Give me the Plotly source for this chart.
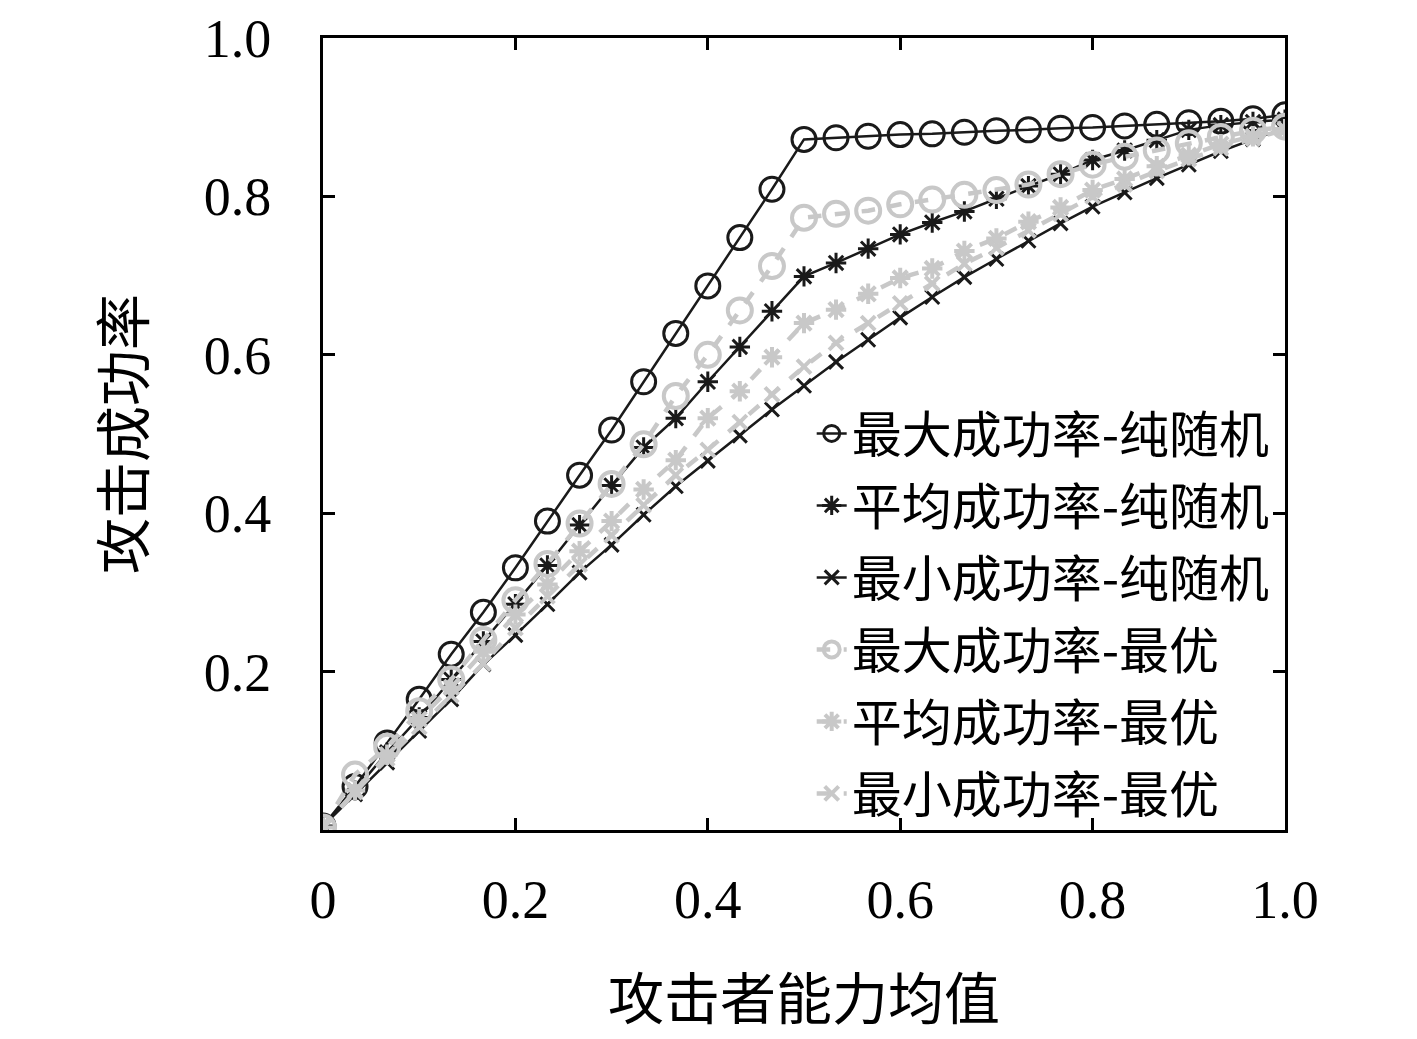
import plotly.graph_objects as go

# attacker capability mean (31 sample points)
x = [0.0, 0.0333, 0.0667, 0.1, 0.1333, 0.1667, 0.2, 0.2333, 0.2667, 0.3, 0.3333,
     0.3667, 0.4, 0.4333, 0.4667, 0.5, 0.5333, 0.5667, 0.6, 0.6333, 0.6667,
     0.7, 0.7333, 0.7667, 0.8, 0.8333, 0.8667, 0.9, 0.9333, 0.9667, 1.0]

# pure random strategy
max_rand = [0.005, 0.055, 0.11, 0.165, 0.222, 0.275, 0.331, 0.39, 0.448, 0.505, 0.566,
            0.627, 0.687, 0.748, 0.809, 0.872, 0.874, 0.876, 0.878, 0.879, 0.881,
            0.883, 0.884, 0.886, 0.887, 0.889, 0.891, 0.893, 0.895, 0.898, 0.903]
avg_rand = [0.005, 0.05, 0.098, 0.142, 0.19, 0.238, 0.285, 0.334, 0.385, 0.435, 0.483,
            0.52, 0.566, 0.61, 0.655, 0.699, 0.716, 0.734, 0.752, 0.767, 0.781,
            0.797, 0.813, 0.828, 0.846, 0.858, 0.871, 0.884, 0.89, 0.894, 0.897]
min_rand = [0.005, 0.045, 0.085, 0.125, 0.165, 0.209, 0.246, 0.285, 0.325, 0.36, 0.398,
            0.434, 0.466, 0.498, 0.531, 0.561, 0.591, 0.619, 0.647, 0.673, 0.698,
            0.721, 0.744, 0.766, 0.787, 0.805, 0.823, 0.84, 0.857, 0.872, 0.886]

# optimal strategy
max_opt = [0.003, 0.07, 0.105, 0.15, 0.19, 0.24, 0.29, 0.336, 0.387, 0.437, 0.487,
           0.548, 0.6, 0.656, 0.712, 0.773, 0.778, 0.782, 0.79, 0.796, 0.802,
           0.808, 0.815, 0.828, 0.84, 0.85, 0.858, 0.867, 0.875, 0.883, 0.888]
avg_opt = [0.003, 0.05, 0.095, 0.14, 0.18, 0.225, 0.272, 0.31, 0.352, 0.39, 0.43,
           0.467, 0.52, 0.554, 0.597, 0.64, 0.657, 0.677, 0.697, 0.709, 0.731,
           0.747, 0.768, 0.786, 0.808, 0.822, 0.838, 0.852, 0.866, 0.876, 0.885]
min_opt = [0.003, 0.048, 0.09, 0.13, 0.17, 0.21, 0.255, 0.295, 0.335, 0.372, 0.41,
           0.448, 0.48, 0.515, 0.55, 0.585, 0.615, 0.64, 0.665, 0.69, 0.715,
           0.735, 0.757, 0.778, 0.8, 0.815, 0.832, 0.847, 0.861, 0.873, 0.884]

names = ["最大成功率-纯随机", "平均成功率-纯随机", "最小成功率-纯随机",
         "最大成功率-最优", "平均成功率-最优", "最小成功率-最优"]

tick_vals = [0, 0.2, 0.4, 0.6, 0.8, 1.0]
x_tick_text = ["0", "0.2", "0.4", "0.6", "0.8", "1.0"]
y_tick_vals = [0.2, 0.4, 0.6, 0.8, 1.0]
y_tick_text = ["0.2", "0.4", "0.6", "0.8", "1.0"]

black = "#1a1a1a"
gray = "#c8c8c8"

fig = go.Figure()

series = [
    (max_rand, "circle-open", 24, black, "solid"),
    (avg_rand, "asterisk", 17, black, "solid"),
    (min_rand, "x-thin", 14, black, "solid"),
    (max_opt, "circle-open", 24, gray, "dash"),
    (avg_opt, "asterisk", 17, gray, "dash"),
    (min_opt, "x-thin", 14, gray, "dash"),
]

for i, ((y, sym, size, col, dash), name) in enumerate(zip(series, names)):
    fig.add_trace(go.Scatter(
        x=x, y=y, name=name, mode="lines+markers", legendgroup=f"g{i}",
        line=dict(color=col, width=2.5 if col == black else 4.5, dash=dash),
        marker=dict(symbol=sym, size=size, color=col,
                    line=dict(color=col, width=3 if col == black else 4)),
    ))

axis_common = dict(
    showline=True, linecolor="black", linewidth=3, mirror="allticks",
    ticks="inside", ticklen=12, tickwidth=3, tickcolor="black",
    showgrid=False, zeroline=False, ticklabeloverflow="allow", automargin=False,
    tickfont=dict(family="Liberation Serif", size=54, color="black"),
)

fig.update_xaxes(range=[0, 1], tickvals=tick_vals, ticktext=x_tick_text,
                 title=dict(text="攻击者能力均值", standoff=52,
                            font=dict(family="Noto Sans CJK SC", size=56, color="black")),
                 ticklabelstandoff=20, **axis_common)
fig.update_yaxes(range=[0, 1], tickvals=y_tick_vals, ticktext=y_tick_text,
                 title=dict(text="攻击成功率", standoff=42,
                            font=dict(family="Noto Sans CJK SC", size=56, color="black")),
                 ticklabelstandoff=38, **axis_common)

fig.update_layout(
    width=1417, height=1039,
    margin=dict(l=315, r=140, t=30, b=217),
    paper_bgcolor="white", plot_bgcolor="white",
    showlegend=True,
    legend=dict(x=0.508, y=0.55, xanchor="left", yanchor="top",
                bgcolor="rgba(0,0,0,0)", borderwidth=0, tracegroupgap=4,
                font=dict(family="Noto Sans CJK SC", size=50, color="black")),
)

fig.write_html("out.html")
